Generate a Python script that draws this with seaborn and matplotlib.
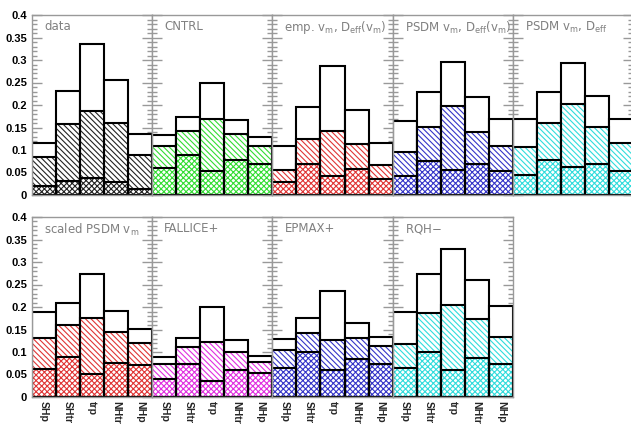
import matplotlib
matplotlib.use('Agg')
import matplotlib.pyplot as plt
import seaborn as sns
from matplotlib.ticker import MultipleLocator

sns.set_style('white')
plt.rcParams['font.family'] = ['DejaVu Sans']
plt.rcParams['hatch.linewidth'] = 0.8

regions = ['SHp', 'SHtr', 'trp', 'NHtr', 'NHp']

# total / hatched / cross-hatched fractions
data_tot = [0.115, 0.232, 0.336, 0.255, 0.136]
data_mid = [0.084, 0.158, 0.187, 0.159, 0.089]
data_low = [0.019, 0.032, 0.038, 0.029, 0.013]

cntrl_tot = [0.133, 0.173, 0.250, 0.167, 0.130]
cntrl_mid = [0.110, 0.142, 0.169, 0.135, 0.110]
cntrl_low = [0.059, 0.089, 0.054, 0.078, 0.070]

emp_tot = [0.110, 0.195, 0.287, 0.189, 0.115]
emp_mid = [0.056, 0.124, 0.143, 0.113, 0.067]
emp_low = [0.030, 0.068, 0.042, 0.058, 0.036]

psdm1_tot = [0.165, 0.228, 0.296, 0.217, 0.170]
psdm1_mid = [0.096, 0.152, 0.198, 0.141, 0.110]
psdm1_low = [0.042, 0.076, 0.056, 0.068, 0.053]

psdm2_tot = [0.170, 0.230, 0.294, 0.221, 0.170]
psdm2_mid = [0.107, 0.159, 0.202, 0.152, 0.115]
psdm2_low = [0.045, 0.078, 0.063, 0.070, 0.054]

scaled_tot = [0.189, 0.209, 0.273, 0.191, 0.152]
scaled_mid = [0.131, 0.159, 0.176, 0.144, 0.119]
scaled_low = [0.063, 0.090, 0.051, 0.076, 0.072]

fallice_tot = [0.090, 0.132, 0.200, 0.126, 0.091]
fallice_mid = [0.073, 0.111, 0.123, 0.100, 0.078]
fallice_low = [0.041, 0.074, 0.035, 0.061, 0.053]

epmax_tot = [0.130, 0.176, 0.236, 0.165, 0.133]
epmax_mid = [0.104, 0.143, 0.126, 0.132, 0.113]
epmax_low = [0.064, 0.100, 0.059, 0.085, 0.074]

rqh_tot = [0.190, 0.274, 0.328, 0.261, 0.202]
rqh_mid = [0.117, 0.187, 0.205, 0.174, 0.133]
rqh_low = [0.065, 0.099, 0.059, 0.086, 0.074]

titles = ['data', 'CNTRL',
          r'emp. v$_\mathregular{m}$, D$_\mathregular{eff}$(v$_\mathregular{m}$)',
          r'PSDM v$_\mathregular{m}$, D$_\mathregular{eff}$(v$_\mathregular{m}$)',
          r'PSDM v$_\mathregular{m}$, D$_\mathregular{eff}$',
          r'scaled PSDM v$_\mathregular{m}$', 'FALLICE+', 'EPMAX+', 'RQH$-$']
colors = ['#222222', '#33dd33', '#e03535', '#3535c8', '#30dcdc',
          '#e03535', '#e030e0', '#3535c8', '#30dcdc']
panels = [(data_tot, data_mid, data_low), (cntrl_tot, cntrl_mid, cntrl_low),
          (emp_tot, emp_mid, emp_low), (psdm1_tot, psdm1_mid, psdm1_low),
          (psdm2_tot, psdm2_mid, psdm2_low), (scaled_tot, scaled_mid, scaled_low),
          (fallice_tot, fallice_mid, fallice_low), (epmax_tot, epmax_mid, epmax_low),
          (rqh_tot, rqh_mid, rqh_low)]

W, H = 631, 424
fig = plt.figure(figsize=(W / 100, H / 100), dpi=100)

pw = 120.2
for i, (title, col, (tot, mid, low)) in enumerate(zip(titles, colors, panels)):
    row, c = divmod(i, 5)
    left = 32 + c * pw
    bottom_px = 195 if row == 0 else 397
    ax = fig.add_axes([left / W, 1 - bottom_px / H, pw / W, 180 / H])

    sns.barplot(x=regions, y=tot, ax=ax, width=1, color='white', saturation=1,
                edgecolor='black', linewidth=1.5, errorbar=None)
    sns.barplot(x=regions, y=mid, ax=ax, width=1, color='white', saturation=1,
                edgecolor=col, linewidth=0, hatch='\\' * 6, errorbar=None)
    sns.barplot(x=regions, y=low, ax=ax, width=1, color='white', saturation=1,
                edgecolor=col, linewidth=0, hatch='x' * 6, errorbar=None)
    for vals in (mid, low):
        sns.barplot(x=regions, y=vals, ax=ax, width=1, fill=False,
                    edgecolor='black', linewidth=1.5, errorbar=None)

    ax.set_xlim(-0.5, 4.5)
    ax.set_ylim(0, 0.4)
    ax.set_xlabel('')
    ax.set_ylabel('')
    ax.yaxis.set_minor_locator(MultipleLocator(0.01))
    ax.tick_params(axis='y', which='both', direction='in', left=True, right=True,
                   colors='#999999', width=1)
    ax.tick_params(axis='y', which='major', length=7)
    ax.tick_params(axis='y', which='minor', length=3.5)
    ax.tick_params(axis='y', labelcolor='black', labelsize=8)
    ax.tick_params(axis='x', length=0, labelsize=7.5, pad=3)
    ax.set_yticks([0, 0.05, 0.1, 0.15, 0.2, 0.25, 0.3, 0.35, 0.4])
    ax.set_yticklabels(['0', '0.05', '0.1', '0.15', '0.2', '0.25', '0.3', '0.35', '0.4'],
                       fontweight='bold', family='Liberation Sans')
    if c != 0:
        ax.tick_params(axis='y', labelleft=False)
    if row == 1:
        ax.set_xticks(range(5))
        ax.set_xticklabels(regions, rotation=-90, fontweight='bold',
                           family='Liberation Sans', va='top', ha='center')
    else:
        ax.tick_params(axis='x', labelbottom=False)
    for s in ax.spines.values():
        s.set_color('#999999')
        s.set_linewidth(1)
    ax.text(0.1, 0.975, title, transform=ax.transAxes, ha='left', va='top',
            fontsize=8.5, color='#808080')

fig.savefig('out.png', dpi=100)
